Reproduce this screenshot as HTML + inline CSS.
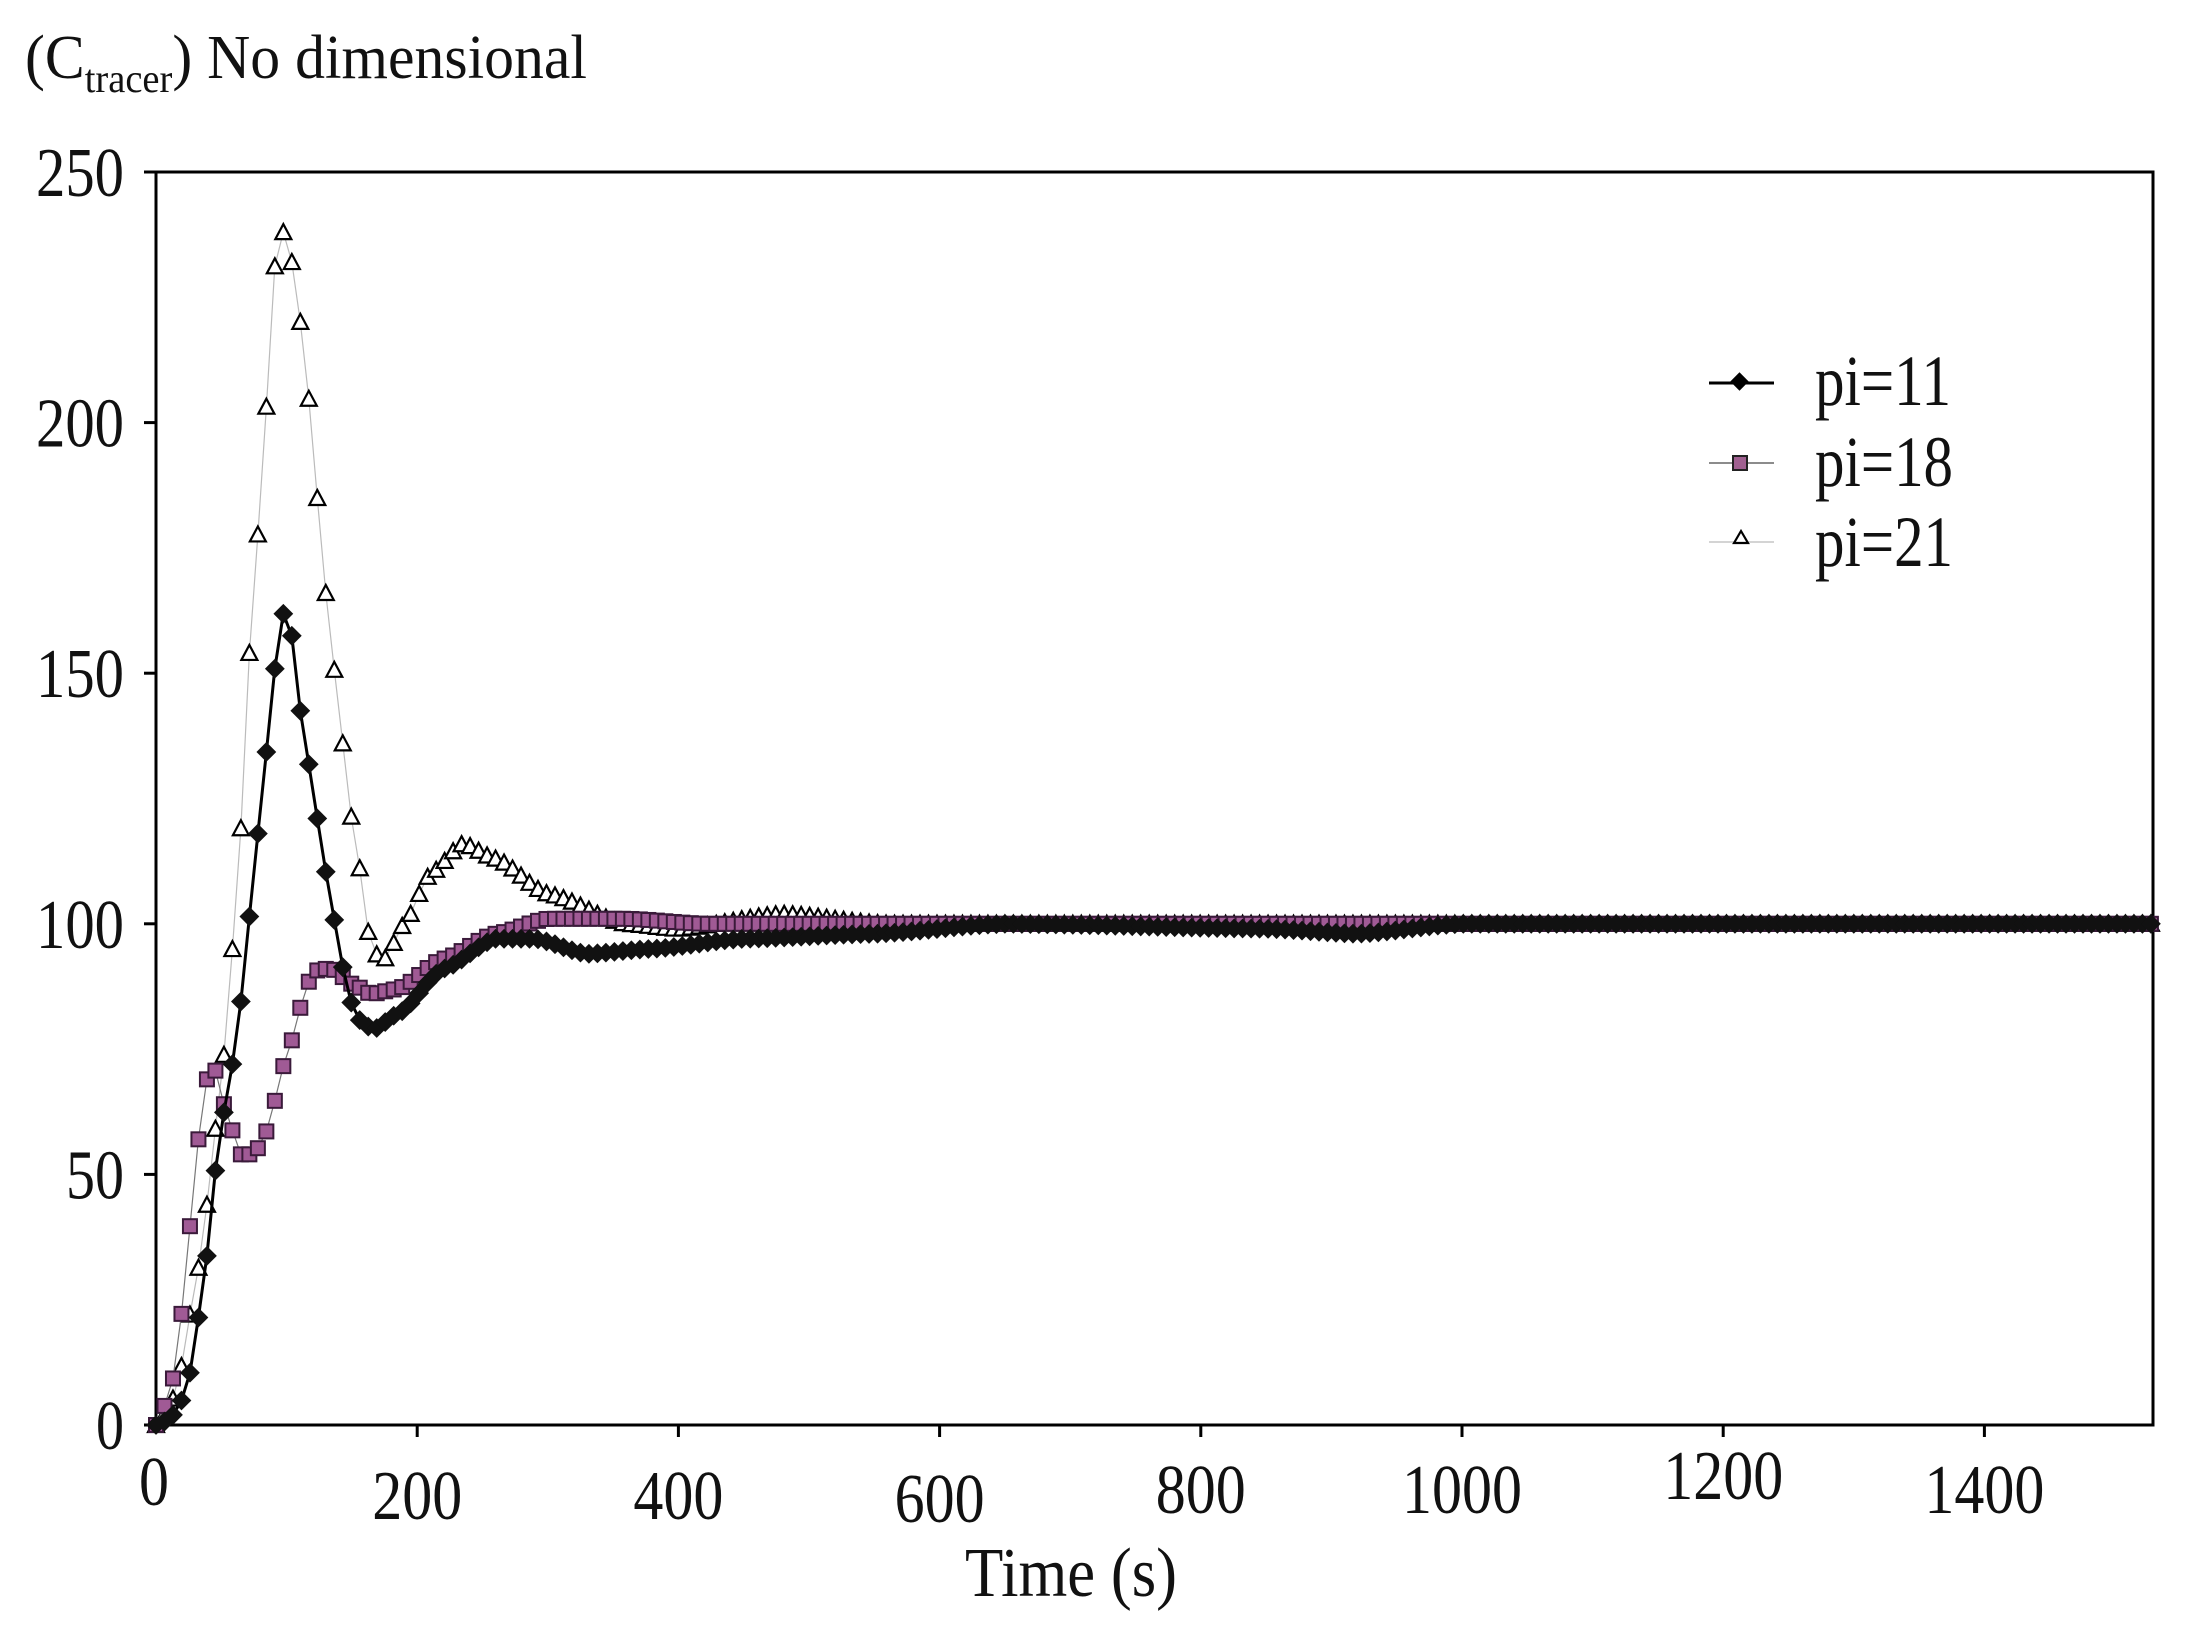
<!DOCTYPE html>
<html><head><meta charset="utf-8"><style>
html,body{margin:0;padding:0;background:#fff;}
svg{display:block;}
text{font-family:"Liberation Serif",serif;fill:#111;}
</style></head><body>
<svg id="s" width="2193" height="1629" viewBox="0 0 2193 1629" xmlns="http://www.w3.org/2000/svg">
<rect width="2193" height="1629" fill="#fff"/>
<text x="25" y="78" font-size="62" textLength="562" lengthAdjust="spacingAndGlyphs">(C<tspan font-size="40" dy="14">tracer</tspan><tspan dy="-14">) No dimensional</tspan></text>
<g id="axes"></g>
<g id="series"></g>
<g id="legend">
<line x1="1709" y1="383" x2="1774" y2="383" stroke="#000" stroke-width="3"/>
<rect x="1733" y="375" width="13" height="13" transform="rotate(45 1739.5 381.5)" fill="#000"/>
<line x1="1709" y1="463" x2="1774" y2="463" stroke="#666" stroke-width="1.5"/>
<rect x="1733" y="456" width="14" height="14" fill="#a06090" stroke="#222" stroke-width="2"/>
<line x1="1709" y1="542" x2="1774" y2="542" stroke="#bbb" stroke-width="1.2"/>
<path d="M1734 543 l7 -12 l7 12 z" fill="#fff" stroke="#000" stroke-width="2.2"/>
<text x="1815" y="405" font-size="72" textLength="136" lengthAdjust="spacingAndGlyphs">pi=11</text>
<text x="1815" y="486" font-size="72" textLength="138" lengthAdjust="spacingAndGlyphs">pi=18</text>
<text x="1815" y="566" font-size="72" textLength="138" lengthAdjust="spacingAndGlyphs">pi=21</text>
</g>
</svg>
<script>
const NS="http://www.w3.org/2000/svg";
const X=t=>156+t*1.306, Y=v=>1425-v*5.012;
function el(p,n,a,txt){const e=document.createElementNS(NS,n);for(const k in a)e.setAttribute(k,a[k]);if(txt!==undefined)e.textContent=txt;p.appendChild(e);return e;}
const ax=document.getElementById('axes');
el(ax,'rect',{x:156,y:172,width:1997,height:1253,fill:'none',stroke:'#000','stroke-width':3});
[0,50,100,150,200,250].forEach(v=>{const y=Y(v);el(ax,'line',{x1:144,y1:y,x2:156,y2:y,stroke:'#000','stroke-width':3});
 const w=v==0?28:(v<100?58:88);el(ax,'text',{x:124,y:y+24,'font-size':70,'text-anchor':'end',textLength:w,lengthAdjust:'spacingAndGlyphs'},String(v));});
const xl=[[0,1481],[200,1495],[400,1495],[600,1498],[800,1489],[1000,1489],[1200,1475],[1400,1489]];
xl.forEach(([t,cy])=>{const x=X(t);if(t>0)el(ax,'line',{x1:x,y1:1425,x2:x,y2:1437,stroke:'#000','stroke-width':3});
 const s=String(t);el(ax,'text',{x:x+(t==0?-2:0),y:cy+24,'font-size':70,'text-anchor':'middle',textLength:s.length*30,lengthAdjust:'spacingAndGlyphs'},s);});
el(ax,'text',{x:1071,y:1596,'font-size':70,'text-anchor':'middle',textLength:212,lengthAdjust:'spacingAndGlyphs'},'Time (s)');
function interp(k,t){for(let i=1;i<k.length;i++){if(t<=k[i][0]){const [a,va]=k[i-1],[b,vb]=k[i];const f=(t-a)/(b-a);const g=(1-Math.cos(Math.PI*f))/2;return va+(vb-va)*(0.5*f+0.5*g);}}return k[k.length-1][1];}
const k21=[[0,0],[10,3],[20,12],[30,28],[40,45],[50,70],[62,103],[70,150],[77,175],[83,198],[90,230],[95,238],[100,238],[105,231],[112,218],[118,203],[124,184],[130,166],[137,150],[143,136],[148,123],[155,113],[160,100],[168,94],[175,93],[190,100],[210,110],[235,116],[260,113],[300,106],[360,100],[400,99],[480,102],[560,100],[1530,100]];
const k11=[[0,0],[10,1],[20,5],[27,11],[33,22],[40,35],[45,50],[50,62],[55,63],[62,81],[68,88],[73,106],[78,118],[83,131],[88,144],[93,155],[97,162],[103,159],[110,143],[116,133],[122,123],[128,113],[134,104],[142,92],[150,84],[158,80],[167,79],[185,82],[220,91],[260,97],[290,97],[330,94],[380,95],[450,97],[550,98],[650,100],[850,99],[920,98],[1000,100],[1530,100]];
const k18=[[0,0],[5,3],[12,8],[18,19],[24,35],[30,51],[35,63],[40,70],[45,71],[52,64],[58,59],[65,54],[75,54],[82,57],[88,61],[95,70],[102,75],[108,81],[115,88],[125,91],[135,91],[150,88],[165,86],[185,87],[220,93],[260,98],[300,101],[360,101],[420,100],[1530,100]];
const sg=document.getElementById('series');
function series(k,step,draw,lineAttr){const pts=[];for(let t=0;t<=1530;t+=step)pts.push([X(t),Y(interp(k,t))]);
 el(sg,'polyline',Object.assign({points:pts.map(p=>p[0].toFixed(1)+','+p[1].toFixed(1)).join(' '),fill:'none'},lineAttr));
 pts.forEach(p=>draw(p[0],p[1]));}
series(k21,6.5,(x,y)=>el(sg,'path',{d:`M${x-8} ${y+7} L${x} ${y-8} L${x+8} ${y+7} Z`,fill:'#fff',stroke:'#000','stroke-width':2.2}),{stroke:'#bbb','stroke-width':1.2});
series(k18,6.5,(x,y)=>el(sg,'rect',{x:x-7,y:y-7,width:14,height:14,fill:'#a05a95',stroke:'#3a1a3a','stroke-width':2}),{stroke:'#777','stroke-width':1.2});
series(k11,6.5,(x,y)=>el(sg,'rect',{x:x-7,y:y-7,width:14,height:14,fill:'#111',transform:`rotate(45 ${x} ${y})`}),{stroke:'#000','stroke-width':3});
</script>
</body></html>
